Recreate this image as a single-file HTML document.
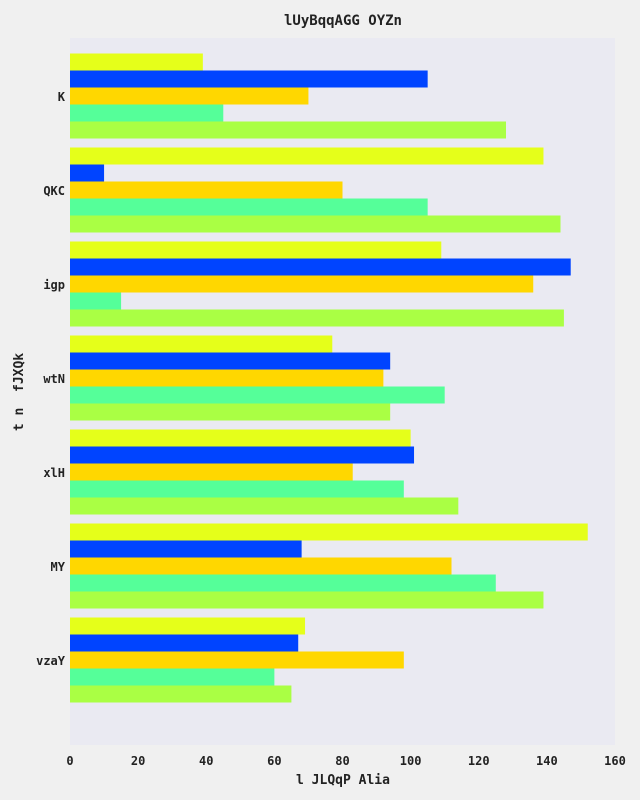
<!DOCTYPE html>
<html><head><meta charset="utf-8"><style>
body{margin:0;background:#f0f0f0;}
svg{display:block;font-family:"DejaVu Sans Mono","Liberation Mono",monospace;font-weight:bold;}
</style></head><body>
<svg id="chart" width="640" height="800">
<rect x="0" y="0" width="640" height="800" fill="#f0f0f0"/>
<rect x="70" y="38" width="545" height="707" fill="#eaeaf2"/>
<text x="343" y="25" text-anchor="middle" font-size="14" fill="#222">lUyBqqAGG OYZn</text>
<text x="343" y="784" text-anchor="middle" font-size="13" fill="#222">l JLQqP Alia</text>
<text transform="translate(23,392) rotate(-90)" text-anchor="middle" font-size="13" fill="#222" style="white-space:pre">t n  fJXQk</text>
<g id="bars"></g><g id="xticks"></g><g id="yticks"></g>
</svg>
<script>
const categories=["K","QKC","igp","wtN","xlH","MY","vzaY"];
const s1=[39,139,109,77,100,152,69];
const s2=[105,10,147,94,101,68,67];
const s3=[70,80,136,92,83,112,98];
const s4=[45,105,15,110,98,125,60];
const s5=[128,144,145,94,114,139,65];
const xTicks=[0,20,40,60,80,100,120,140,160];
const series=[s1,s2,s3,s4,s5];
const colors=["#e5ff1a","#0044ff","#ffd700","#55ff99","#aaff44"];
const x0=70,x1=615,xmax=160;
const xs=v=>x0+(x1-x0)*v/xmax;
const yc=i=>96+i*94;
const bh=17;
const NS="http://www.w3.org/2000/svg";
const bars=document.getElementById('bars');
categories.forEach((c,i)=>{
  series.forEach((s,k)=>{
    const r=document.createElementNS(NS,'rect');
    r.setAttribute('x',x0);
    r.setAttribute('y',yc(i)-2.5*bh+k*bh);
    r.setAttribute('width',xs(s[i])-x0);
    r.setAttribute('height',bh);
    r.setAttribute('fill',colors[k]);
    
    
    bars.appendChild(r);
  });
  const t=document.createElementNS(NS,'text');
  t.setAttribute('x',65);t.setAttribute('y',yc(i)+5);
  t.setAttribute('text-anchor','end');t.setAttribute('font-size','12');t.setAttribute('fill','#222');
  t.textContent=c;
  
  
  document.getElementById('yticks').appendChild(t);
});
xTicks.forEach(v=>{
  const t=document.createElementNS(NS,'text');
  t.setAttribute('x',xs(v));t.setAttribute('y',765);
  t.setAttribute('text-anchor','middle');t.setAttribute('font-size','12');t.setAttribute('fill','#222');
  t.textContent=v;
  
  
  document.getElementById('xticks').appendChild(t);
});
</script>
</body></html>
